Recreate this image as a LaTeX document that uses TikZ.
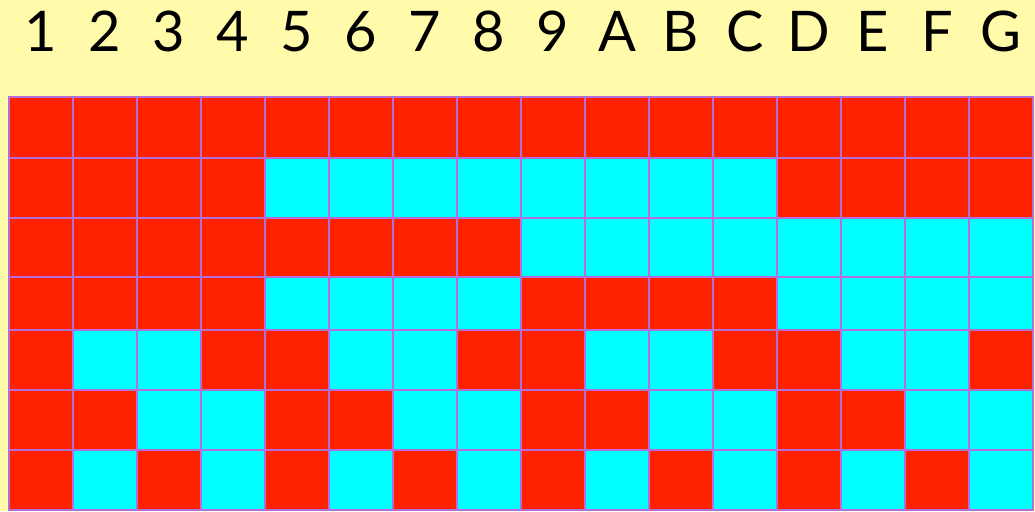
\documentclass[tikz,border=0pt]{standalone}
\usepackage{fontspec}
\setmainfont{Lato}
\definecolor{bgy}{RGB}{255,251,170}
\definecolor{cellR}{RGB}{255,34,0}
\definecolor{cellC}{RGB}{0,255,255}
\definecolor{gridl}{RGB}{180,110,220}
\begin{document}
\begin{tikzpicture}[x=1pt,y=-1pt,
  cell/.style={draw=gridl,line width=1.8pt,rectangle,inner sep=0pt,outer sep=0pt,minimum width=64pt},
  lab/.style={font=\fontsize{56}{56}\selectfont,anchor=base,inner sep=0pt}]
\fill[bgy] (0,0) rectangle (1035,511);
\useasboundingbox (0,0) rectangle (1035,511);
\foreach \t [count=\i] in {1,2,3,4,5,6,7,8,9,A,B,C,D,E,F,G}{
  \pgfmathsetmacro{\xc}{9+64*(\i-0.5)}
  \node[lab] (lab\i) at (\xc,52) {\t};
}
\foreach \r/\ya/\yb/\pat in {
  1/97/158/{0,0,0,0,0,0,0,0,0,0,0,0,0,0,0,0},
  2/158/218/{0,0,0,0,1,1,1,1,1,1,1,1,0,0,0,0},
  3/218/277/{0,0,0,0,0,0,0,0,1,1,1,1,1,1,1,1},
  4/277/330/{0,0,0,0,1,1,1,1,0,0,0,0,1,1,1,1},
  5/330/390/{0,1,1,0,0,1,1,0,0,1,1,0,0,1,1,0},
  6/390/450/{0,0,1,1,0,0,1,1,0,0,1,1,0,0,1,1},
  7/450/510/{0,1,0,1,0,1,0,1,0,1,0,1,0,1,0,1}}{
  \pgfmathsetmacro{\yc}{(\ya+\yb)/2}
  \pgfmathsetmacro{\hh}{\yb-\ya}
  \foreach \c [count=\i] in \pat {
    \pgfmathsetmacro{\xc}{9+64*(\i-0.5)}
    \ifnum\c=1 \def\fc{cellC}\else\def\fc{cellR}\fi
    \node[cell,fill=\fc,minimum height=\hh pt] (c\r-\i) at (\xc,\yc) {};
  }
}
\end{tikzpicture}
\end{document}
